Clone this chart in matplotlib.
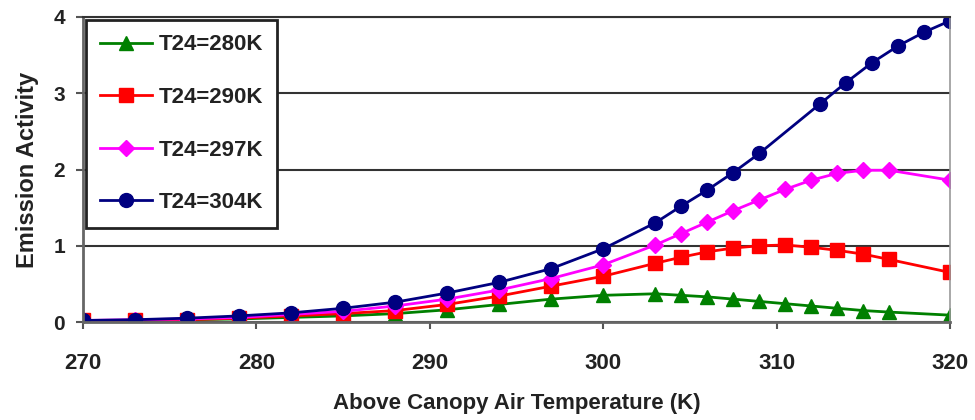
import matplotlib
matplotlib.use("Agg")
import matplotlib.pyplot as plt

plt.rcParams['font.family'] = ['Liberation Sans', 'DejaVu Sans']
plt.rcParams['font.weight'] = 'bold'

# temperatures (K) -- the hot series has slightly different points at the end
t_main = [270, 273, 276, 279, 282, 285, 288, 291, 294, 297, 300, 303,
          304.5, 306, 307.5, 309, 310.5, 312, 313.5, 315, 316.5, 320]
t_304 = [270, 273, 276, 279, 282, 285, 288, 291, 294, 297, 300, 303,
         304.5, 306, 307.5, 309, 312.5, 314, 315.5, 317, 318.5, 320]

act_280 = [0.02, 0.02, 0.03, 0.04, 0.06, 0.08, 0.11, 0.16, 0.23, 0.30, 0.35, 0.37,
           0.35, 0.33, 0.30, 0.27, 0.24, 0.21, 0.18, 0.15, 0.13, 0.09]
act_290 = [0.02, 0.02, 0.03, 0.05, 0.08, 0.11, 0.15, 0.23, 0.34, 0.47, 0.60, 0.77,
           0.85, 0.92, 0.97, 1.00, 1.01, 0.98, 0.94, 0.89, 0.82, 0.65]
act_297 = [0.02, 0.03, 0.04, 0.06, 0.10, 0.14, 0.21, 0.30, 0.42, 0.57, 0.75, 1.01,
           1.16, 1.31, 1.46, 1.60, 1.74, 1.86, 1.95, 1.99, 1.99, 1.86]
act_304 = [0.02, 0.03, 0.05, 0.08, 0.12, 0.18, 0.26, 0.38, 0.52, 0.70, 0.96, 1.30,
           1.52, 1.73, 1.96, 2.21, 2.86, 3.14, 3.40, 3.62, 3.80, 3.95]

labels = ['T24=280K', 'T24=290K', 'T24=297K', 'T24=304K']

fig = plt.figure(figsize=(9.75, 4.2), dpi=100)
ax = fig.add_axes([83 / 975, 1 - 322 / 420, (950 - 83) / 975, (322 - 17) / 420])

ax.plot(t_main, act_280, '-^', color='#008000', lw=2, ms=10, label=labels[0])
ax.plot(t_main, act_290, '-s', color='#ff0000', lw=2, ms=9.5, label=labels[1])
ax.plot(t_main, act_297, '-D', color='#ff00ff', lw=2, ms=8, label=labels[2])
ax.plot(t_304, act_304, '-o', color='#000080', lw=2, ms=10, label=labels[3])

ax.set_xlim(270, 320)
ax.set_ylim(0, 4)
ax.set_xticks([270, 280, 290, 300, 310, 320])
ax.set_yticks([0, 1, 2, 3, 4])
for tl in ax.get_xticklabels() + ax.get_yticklabels():
    tl.set_fontweight('bold')
ax.tick_params(axis='x', direction='out', length=5, width=1.5, color='#555555',
               labelsize=16, pad=17, labelcolor='#222222')
ax.tick_params(axis='y', direction='out', length=5, width=1.5, color='#555555',
               labelsize=15, pad=8, labelcolor='#222222')

ax.yaxis.grid(True, color='#333333', lw=1.5)
ax.set_axisbelow(True)
for s in ['left', 'bottom']:
    ax.spines[s].set_color('#666666')
    ax.spines[s].set_linewidth(2)
ax.spines['right'].set_color('#999999')
ax.spines['right'].set_linewidth(1.2)
ax.spines['top'].set_color('#333333')
ax.spines['top'].set_linewidth(1.5)

ax.set_xlabel('Above Canopy Air Temperature (K)', fontsize=16, fontweight='bold',
              labelpad=14, color='#222222')
ax.set_ylabel('Emission Activity', fontsize=17, fontweight='bold', labelpad=10,
              color='#222222')

leg = ax.legend(loc='upper left', bbox_to_anchor=(0.0035, 0.99), fancybox=False,
                framealpha=1, edgecolor='#222222', fontsize=16,
                labelspacing=1.42, handlelength=2.3, handletextpad=0.3,
                borderpad=0.65, borderaxespad=0.0)
leg.get_frame().set_linewidth(2)
for t in leg.get_texts():
    t.set_fontweight('bold')
    t.set_color('#222222')

fig.savefig('out.png', dpi=100)
